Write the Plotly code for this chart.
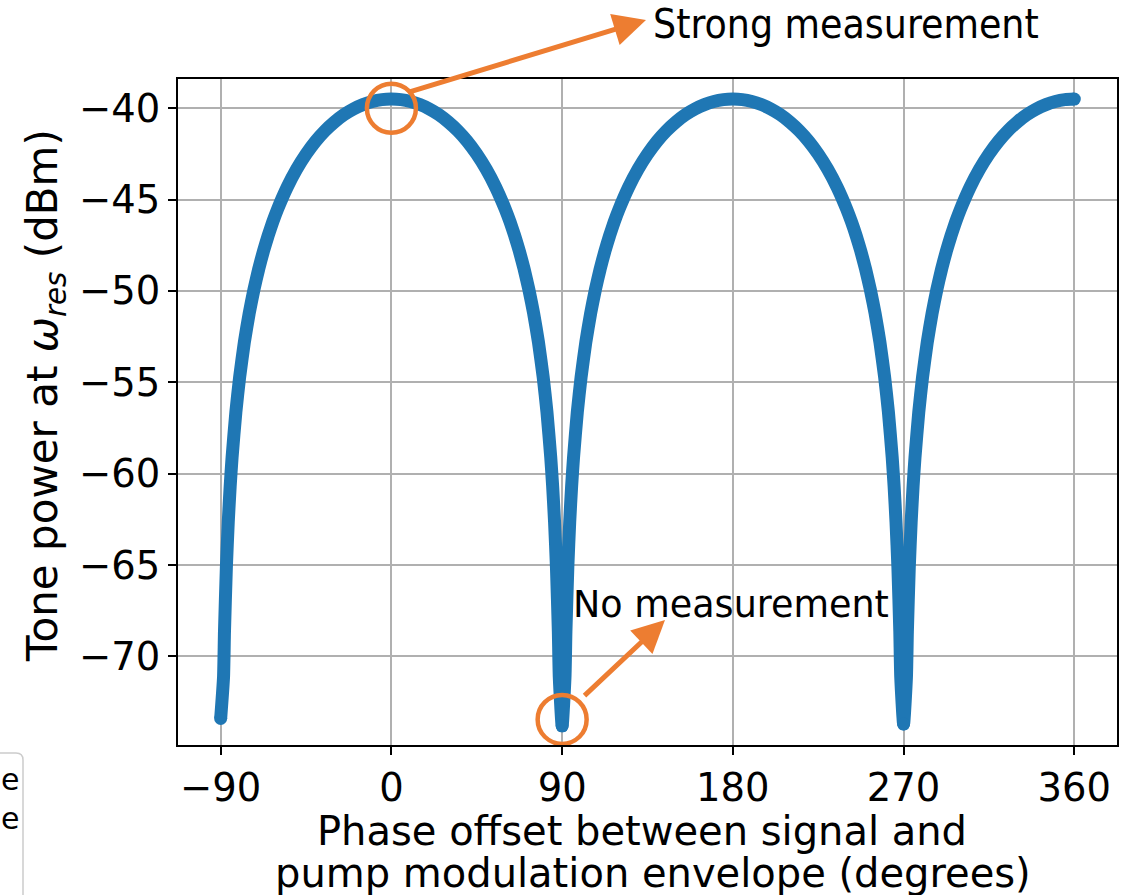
import plotly.graph_objects as go

# ---- data ----
phase_deg = [
    # lobe 1
    -90, -88.5, -88, -87, -86, -85, -84, -82, -80, -77.5, -75, -72.5, -70, -67.5,
    -65, -62.5, -60, -55, -50, -45, -40, -35, -30, -25, -20, -15, -10, -5, 0,
    5, 10, 15, 20, 25, 30, 35, 40, 45, 50, 55, 60,
    62.5, 65, 67.5, 70, 72.5, 75, 77.5, 80, 82, 84, 85, 86, 87, 88, 88.5, 90,
    # lobe 2
    91.5, 92, 93, 94, 95, 96, 98, 100, 102.5, 105, 107.5, 110, 112.5, 115,
    117.5, 120, 125, 130, 135, 140, 145, 150, 155, 160, 165, 170, 175, 180,
    185, 190, 195, 200, 205, 210, 215, 220, 225, 230, 235, 240,
    242.5, 245, 247.5, 250, 252.5, 255, 257.5, 260, 262, 264, 265, 266, 267, 268, 268.5, 270,
    # lobe 3
    271.5, 272, 273, 274, 275, 276, 278, 280, 282.5, 285, 287.5, 290, 292.5, 295,
    297.5, 300, 305, 310, 315, 320, 325, 330, 335, 340, 345, 350, 355, 360,
]
power_dbm = [
    # lobe 1
    -73.40, -71.14, -68.64, -65.12, -62.63, -60.69, -59.12, -56.63, -54.71, -52.79, -51.24, -49.94, -48.82, -47.84,
    -46.98, -46.21, -45.52, -44.33, -43.34, -42.51, -41.81, -41.23, -40.75, -40.35, -40.04, -39.80, -39.63, -39.53, -39.50,
    -39.53, -39.63, -39.80, -40.04, -40.35, -40.75, -41.23, -41.81, -42.51, -43.34, -44.33, -45.52,
    -46.21, -46.98, -47.84, -48.82, -49.94, -51.24, -52.79, -54.71, -56.63, -59.12, -60.69, -62.63, -65.12, -68.64, -71.14, -73.80,
    # lobe 2
    -71.14, -68.64, -65.12, -62.63, -60.69, -59.12, -56.63, -54.71, -52.79, -51.24, -49.94, -48.82, -47.84, -46.98,
    -46.21, -45.52, -44.33, -43.34, -42.51, -41.81, -41.23, -40.75, -40.35, -40.04, -39.80, -39.63, -39.53, -39.50,
    -39.53, -39.63, -39.80, -40.04, -40.35, -40.75, -41.23, -41.81, -42.51, -43.34, -44.33, -45.52,
    -46.21, -46.98, -47.84, -48.82, -49.94, -51.24, -52.79, -54.71, -56.63, -59.12, -60.69, -62.63, -65.12, -68.64, -71.14, -73.70,
    # lobe 3
    -71.14, -68.64, -65.12, -62.63, -60.69, -59.12, -56.63, -54.71, -52.79, -51.24, -49.94, -48.82, -47.84, -46.98,
    -46.21, -45.52, -44.33, -43.34, -42.51, -41.81, -41.23, -40.75, -40.35, -40.04, -39.80, -39.63, -39.53, -39.50,
]
x_tick_vals = [-90, 0, 90, 180, 270, 360]
x_tick_text = ["\u221290", "0", "90", "180", "270", "360"]
y_tick_vals = [-70, -65, -60, -55, -50, -45, -40]
y_tick_text = ["\u221270", "\u221265", "\u221260", "\u221255", "\u221250", "\u221245", "\u221240"]

strong_point = (0, -40.0)
null_point = (90, -73.45)

# ---- layout geometry (pixels) ----
W, H = 1130, 895
PL, PR, PT, PB = 178, 1117, 79, 745


def px(x):
    return (x - PL) / (PR - PL)


def py(y):
    return (PB - y) / (PB - PT)


BLUE = "#1f77b4"
ORANGE = "#ED7D31"
FONT = "DejaVu Sans"

# round caps at the ends and at the nulls
n = len(power_dbm)
cap_idx = [i for i in range(n)
           if i == 0 or i == n - 1
           or (power_dbm[i] < power_dbm[i - 1] and power_dbm[i] < power_dbm[i + 1])]

fig = go.Figure()
fig.add_trace(go.Scatter(
    x=phase_deg, y=power_dbm, mode="lines",
    line=dict(color=BLUE, width=13, shape="spline", smoothing=0.5),
    showlegend=False, hoverinfo="skip",
))
fig.add_trace(go.Scatter(
    x=[phase_deg[i] for i in cap_idx], y=[power_dbm[i] for i in cap_idx], mode="markers",
    marker=dict(color=BLUE, size=13, opacity=1, line=dict(width=0)),
    showlegend=False, hoverinfo="skip",
))

axis_common = dict(
    showgrid=True, gridcolor="#b0b0b0", gridwidth=1.5,
    showline=True, linecolor="black", linewidth=2.2, mirror=True,
    ticks="outside", ticklen=8, tickwidth=2, tickcolor="black",
    tickfont=dict(family=FONT, size=38.5, color="black"),
    zeroline=False,
)
fig.update_xaxes(range=[-112.5, 382.5], tickvals=x_tick_vals, ticktext=x_tick_text, **axis_common)
fig.update_yaxes(range=[-74.85, -38.4], tickvals=y_tick_vals, ticktext=y_tick_text, **axis_common)

shapes = []
for (cx, cy) in (strong_point, null_point):
    shapes.append(dict(
        type="circle", xref="x", yref="y", xsizemode="pixel", ysizemode="pixel",
        xanchor=cx, yanchor=cy, x0=-24.5, x1=24.5, y0=-24.5, y1=24.5,
        line=dict(color=ORANGE, width=4.5), layer="above",
    ))
# cut-off box at lower-left corner
shapes.append(dict(
    type="path", xref="paper", yref="paper",
    path=(f"M {px(-10)},{py(753)} L {px(16)},{py(753)} "
          f"Q {px(23)},{py(753)} {px(23)},{py(760)} L {px(23)},{py(900)}"),
    line=dict(color="#cccccc", width=1.5), layer="above",
))

annotations = []
# arrows
annotations.append(dict(
    xref="paper", yref="paper", x=px(646), y=py(20), ax=409 - 646, ay=92 - 20,
    text="", showarrow=True, arrowhead=2, arrowsize=1.3, arrowwidth=5,
    arrowcolor=ORANGE, standoff=0,
))
annotations.append(dict(
    xref="paper", yref="paper", x=px(665), y=py(620), ax=583 - 665, ay=697 - 620,
    text="", showarrow=True, arrowhead=2, arrowsize=1.3, arrowwidth=5,
    arrowcolor=ORANGE, standoff=0,
))
annotations.append(dict(
    xref="paper", yref="paper", x=px(651), y=py(24), xanchor="left", yanchor="middle",
    text="Strong measurement", showarrow=False,
    font=dict(family="Liberation Sans Narrow, DejaVu Sans Condensed", size=40.5, color="black"),
))
annotations.append(dict(
    xref="paper", yref="paper", x=px(571), y=py(604), xanchor="left", yanchor="middle",
    text="No measurement", showarrow=False,
    font=dict(family=FONT, size=36.5, color="black"),
))
# axis titles
annotations.append(dict(
    xref="paper", yref="paper", x=px(642), y=py(831), xanchor="center", yanchor="middle",
    text="Phase offset between signal and", showarrow=False,
    font=dict(family=FONT, size=40, color="black"),
))
annotations.append(dict(
    xref="paper", yref="paper", x=px(653), y=py(873), xanchor="center", yanchor="middle",
    text="pump modulation envelope (degrees)", showarrow=False,
    font=dict(family=FONT, size=40, color="black"),
))
annotations.append(dict(
    xref="paper", yref="paper", x=px(45), y=py(396), xanchor="center", yanchor="middle",
    text="Tone power at <i>\u03c9</i><sub><i>res</i></sub> (dBm)", showarrow=False, textangle=-90,
    font=dict(family=FONT, size=42, color="black"),
))
# partial text from the cut-off box
for yy in (779, 818):
    annotations.append(dict(
        xref="paper", yref="paper", x=px(21), y=py(yy), xanchor="right", yanchor="middle",
        text="e", showarrow=False, font=dict(family=FONT, size=30, color="black"),
    ))

fig.update_layout(
    width=W, height=H, autosize=False,
    margin=dict(l=PL, r=W - PR, t=PT, b=H - PB, pad=0),
    plot_bgcolor="white", paper_bgcolor="white",
    shapes=shapes, annotations=annotations,
    showlegend=False,
)
fig.write_html("out.html")
